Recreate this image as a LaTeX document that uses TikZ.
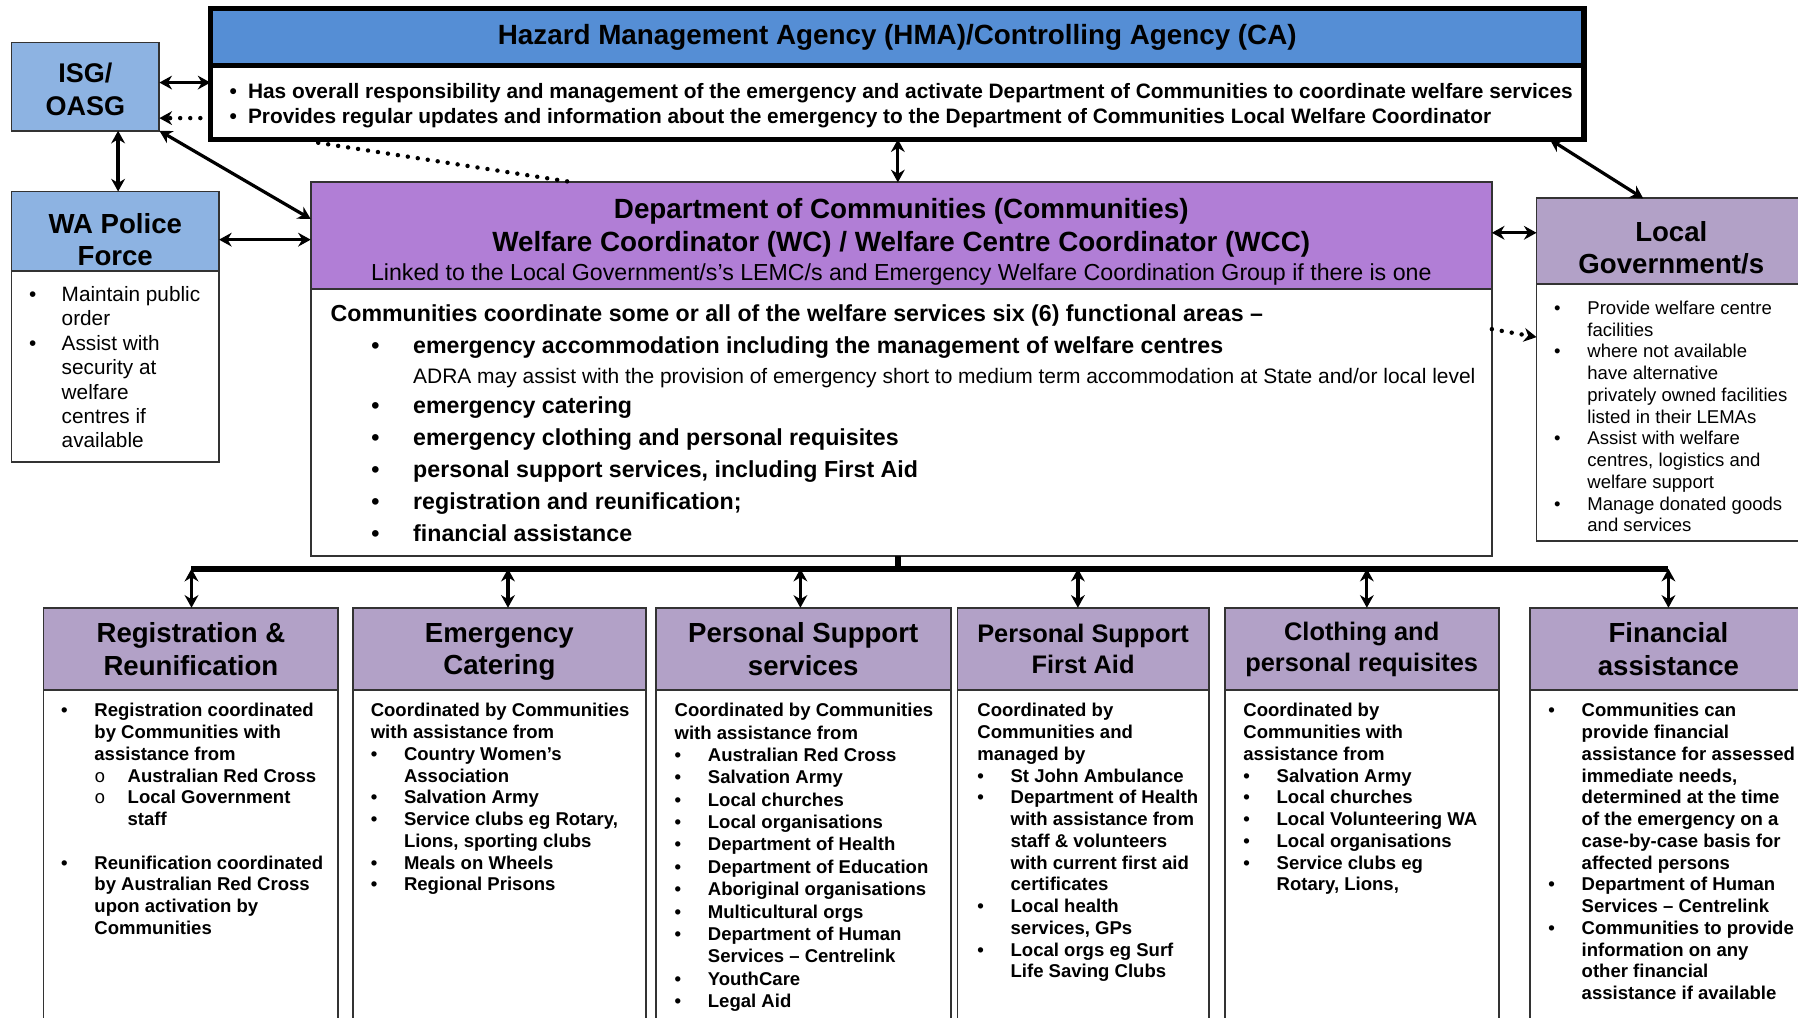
\documentclass[tikz,border=0pt]{standalone}
\usepackage{fontspec}
\setmainfont{Liberation Sans}
\newfontfamily\monofont{Liberation Mono}
\usepackage{tikz}
\usetikzlibrary{arrows.meta,calc}

\definecolor{hmablue}{RGB}{85,142,213}
\definecolor{isgblue}{RGB}{141,179,226}
\definecolor{commpurple}{RGB}{177,126,214}
\definecolor{lavender}{RGB}{178,161,199}

% bullet, indent and sub-bullet for the lists
\newcommand{\bitem}[1][5.8mm]{\makebox[#1][l]{\textbullet}}
\newcommand{\bindent}[1][5.8mm]{\hspace*{#1}}
\newcommand{\bsub}{\bindent\makebox[5.8mm][l]{\mdseries\monofont o}}

\begin{document}
\begin{tikzpicture}[x=0.2mm,y=-0.2mm,
  panel/.style={draw=black!80,line width=0.9pt,anchor=north west,inner sep=0pt,outer sep=0pt},
  hmapanel/.style={draw=black,line width=2.8pt,anchor=north west,inner sep=0pt,outer sep=0pt},
  hdr/.style={align=center,font=\bfseries\fontsize{13.7}{16}\selectfont},
  txt/.style={anchor=north west,inner sep=0pt,align=left},
  bodytext/.style={txt,font=\bfseries\fontsize{9.2}{10.8}\selectfont},
  dbl/.style={{Stealth[length=2.2mm,width=2.4mm]}-{Stealth[length=2.2mm,width=2.4mm]},line width=1.6pt},
  dotline/.style={line width=2.2pt,line cap=round,dash pattern=on 0pt off 5pt},
  busline/.style={line width=3pt}
]
\useasboundingbox (0,0) rectangle (1568,887);

% HMA / Controlling Agency
\node[hmapanel,fill=hmablue,minimum width=239.6mm,minimum height=9.9mm,hdr,font=\bfseries\fontsize{13.8}{16}\selectfont] (hmah) at (183.5,7.5) {Hazard Management Agency (HMA)/Controlling Agency (CA)};
\node[hmapanel,minimum width=239.6mm,minimum height=12.9mm] (hmab) at (hmah.south west) {};
\node[txt,font=\bfseries\fontsize{10.35}{12.5}\selectfont] (hmat) at (200,72) {\bitem[3.2mm]Has overall responsibility and management of the emergency and activate Department of Communities to coordinate welfare services\\
\bitem[3.2mm]Provides regular updates and information about the emergency to the Department of Communities Local Welfare Coordinator};

% ISG
\node[panel,fill=isgblue,minimum width=25.8mm,minimum height=15.4mm] (isg) at (10,37) {};
\node[hdr,font=\bfseries\fontsize{13.4}{16}\selectfont] (isgtxt) at (74.5,78) {ISG/\\OASG};

% WA Police
\node[panel,fill=isgblue,minimum width=36.2mm,minimum height=13.8mm] (policeh) at (10,167) {};
\node[hdr] (policetxt) at (100.5,209) {WA Police\\Force};
\node[panel,minimum width=36.2mm,minimum height=33.4mm] (policeb) at (policeh.south west) {};
\node[txt,font=\fontsize{10.3}{12.1}\selectfont] (policet) at (25,249.5) {\bitem[5.7mm]Maintain public\\\bindent[5.7mm]order\\
\bitem[5.7mm]Assist with\\\bindent[5.7mm]security at\\\bindent[5.7mm]welfare\\\bindent[5.7mm]centres if\\\bindent[5.7mm]available};

% Department of Communities
\node[panel,fill=commpurple,minimum width=206mm,minimum height=18.6mm] (commh) at (271,159) {};
\node[hdr,font=\bfseries\fontsize{13.8}{16}\selectfont] (commtxt) at (786,211) {Department of Communities (Communities)\\Welfare Coordinator (WC) / Welfare Centre Coordinator (WCC)\\[-1.4pt]
{\mdseries\fontsize{11.5}{13}\selectfont Linked to the Local Government/s’s LEMC/s and Emergency Welfare Coordination Group if there is one}};
\node[panel,minimum width=206mm,minimum height=46.6mm] (commb) at (commh.south west) {};
\node[txt,font=\bfseries\fontsize{11.5}{15.9}\selectfont] (commlead) at (288,265) {Communities coordinate some or all of the welfare services six (6) functional areas –};
\node[txt,font=\bfseries\fontsize{11.5}{15.9}\selectfont] (commlist) at (323.5,293.5) {\bitem[7.3mm]emergency accommodation including the management of welfare centres\\[-1.1pt]
\bindent[7.3mm]{\mdseries\fontsize{10.4}{12}\selectfont ADRA may assist with the provision of emergency short to medium term accommodation at State and/or local level}\\[-1.1pt]
\bitem[7.3mm]emergency catering\\
\bitem[7.3mm]emergency clothing and personal requisites\\
\bitem[7.3mm]personal support services, including First Aid\\
\bitem[7.3mm]registration and reunification;\\
\bitem[7.3mm]financial assistance};

% Local Government
\node[panel,fill=lavender,minimum width=47mm,minimum height=15mm] (localh) at (1340,173) {};
\node[hdr] (localtxt) at (1457.5,216) {Local\\Government/s};
\node[panel,minimum width=47mm,minimum height=44.8mm] (localb) at (localh.south west) {};
\node[txt,font=\fontsize{9.2}{10.8}\selectfont] (localt) at (1355,262) {\bitem Provide welfare centre\\\bindent facilities\\
\bitem where not available\\\bindent have alternative\\\bindent privately owned facilities\\\bindent listed in their LEMAs\\
\bitem Assist with welfare\\\bindent centres, logistics and\\\bindent welfare support\\
\bitem Manage donated goods\\\bindent and services};

% Functional areas
\node[panel,fill=lavender,minimum width=51.4mm,minimum height=14.4mm,hdr] (regh) at (38,530) {Registration \&\\Reunification};
\node[panel,minimum width=51.4mm,minimum height=58.6mm] (regb) at (regh.south west) {};
\node[bodytext] (regt) at (53,613) {\bitem Registration coordinated\\\bindent by Communities with\\\bindent assistance from\\
\bsub Australian Red Cross\\\bsub Local Government\\\bindent\bindent staff\\[10.8pt]
\bitem Reunification coordinated\\\bindent by Australian Red Cross\\\bindent upon activation by\\\bindent Communities};

\node[panel,fill=lavender,minimum width=51mm,minimum height=14.4mm,hdr,text depth=0pt] (cath) at (308,530) {Emergency\\Catering};
\node[panel,minimum width=51mm,minimum height=58.6mm] (catb) at (cath.south west) {};
\node[bodytext] (catt) at (323,613) {Coordinated by Communities\\with assistance from\\
\bitem Country Women’s\\\bindent Association\\
\bitem Salvation Army\\
\bitem Service clubs eg Rotary,\\\bindent Lions, sporting clubs\\
\bitem Meals on Wheels\\
\bitem Regional Prisons};

\node[panel,fill=lavender,minimum width=51.4mm,minimum height=14.4mm,hdr] (pssh) at (572,530) {Personal Support\\services};
\node[panel,minimum width=51.4mm,minimum height=58.6mm] (pssb) at (pssh.south west) {};
\node[bodytext,font=\bfseries\fontsize{9.2}{11.1}\selectfont] (psst) at (588,613) {Coordinated by Communities\\with assistance from\\
\bitem Australian Red Cross\\
\bitem Salvation Army\\
\bitem Local churches\\
\bitem Local organisations\\
\bitem Department of Health\\
\bitem Department of Education\\
\bitem Aboriginal organisations\\
\bitem Multicultural orgs\\
\bitem Department of Human\\\bindent Services – Centrelink\\
\bitem YouthCare\\
\bitem Legal Aid};

\node[panel,fill=lavender,minimum width=43.8mm,minimum height=14.4mm,hdr,font=\bfseries\fontsize{12.6}{15.4}\selectfont] (psfh) at (835,530) {Personal Support\\First Aid};
\node[panel,minimum width=43.8mm,minimum height=58.6mm] (psfb) at (psfh.south west) {};
\node[bodytext] (psft) at (852,613) {Coordinated by\\Communities and\\managed by\\
\bitem St John Ambulance\\
\bitem Department of Health\\\bindent with assistance from\\\bindent staff \& volunteers\\\bindent with current first aid\\\bindent certificates\\
\bitem Local health\\\bindent services, GPs\\
\bitem Local orgs eg Surf\\\bindent Life Saving Clubs};

\node[panel,fill=lavender,minimum width=47.8mm,minimum height=14.4mm,hdr,font=\bfseries\fontsize{12.6}{15.4}\selectfont] (cloh) at (1068,530) {Clothing and\\personal requisites};
\node[panel,minimum width=47.8mm,minimum height=58.6mm] (clob) at (cloh.south west) {};
\node[bodytext] (clot) at (1084,613) {Coordinated by\\Communities with\\assistance from\\
\bitem Salvation Army\\
\bitem Local churches\\
\bitem Local Volunteering WA\\
\bitem Local organisations\\
\bitem Service clubs eg\\\bindent Rotary, Lions,};

\node[panel,fill=lavender,minimum width=48.4mm,minimum height=14.4mm,hdr] (finh) at (1334,530) {Financial\\assistance};
\node[panel,minimum width=48.4mm,minimum height=58.6mm] (finb) at (finh.south west) {};
\node[bodytext] (fint) at (1350,613) {\bitem Communities can\\\bindent provide financial\\\bindent assistance for assessed\\\bindent immediate needs,\\\bindent determined at the time\\\bindent of the emergency on a\\\bindent case-by-case basis for\\\bindent affected persons\\
\bitem Department of Human\\\bindent Services – Centrelink\\
\bitem Communities to provide\\\bindent information on any\\\bindent other financial\\\bindent assistance if available};

% Connectors
\draw[dbl] (isg.east |- 0,72) -- (hmab.west |- 0,72);
\draw[dotline,-{Stealth[length=2.2mm,width=2.4mm]}] (hmab.west |- 0,103) -- (isg.east |- 0,103);
\draw[dotline] ($(hmab.south west)+(94,3)$) -- ($(commh.north west)+(229,0)$);
\draw[dbl] (isg.south -| 103,0) -- (policeh.north -| 103,0);
\draw[dbl] (isg.south east) -- (commh.west |- 0,191);
\draw[dbl] (policeh.east |- 0,209) -- (commh.west |- 0,209);
\draw[dbl] (hmab.south -| 783,0) -- (commh.north -| 783,0);
\draw[dbl] ($(hmab.south east)+(-30,0)$) -- ($(localh.north west)+(93,0)$);
\draw[dbl] (commh.east |- 0,203) -- (localh.west |- 0,203);
\draw[dotline,-{Stealth[length=2.2mm,width=2.4mm]}] (commb.east |- 0,287) -- (localb.west |- 0,294);

% Bus to the functional areas
\coordinate (busl) at (167,496);
\coordinate (busr) at (1455,496);
\draw[busline] (commb.south -| 783,0) -- (busl -| 783,0);
\draw[busline] (busl) -- (busr);
\foreach \b/\x in {regh/167,cath/443,pssh/698,psfh/940,cloh/1192,finh/1455}
  \draw[dbl] (\x,496) -- (\b.north -| \x,0);
\end{tikzpicture}
\end{document}
